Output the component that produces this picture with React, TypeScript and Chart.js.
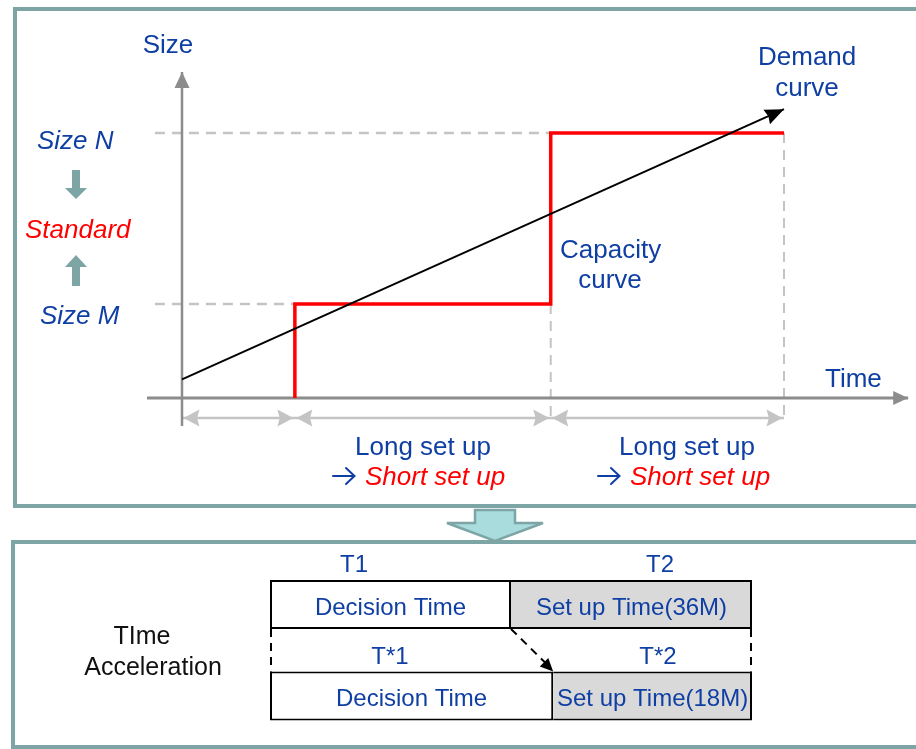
import React, { useEffect, useRef } from "react";
import { Chart, registerables } from "chart.js";

Chart.register(...registerables);

// ---------------- data: upper diagram (sketch units: time / size) ----------------
const timeMarks = [0, 3.0, 9.8, 16]; // origin, first capacity add, second capacity add, horizon
const capacityTimes = [3.0, 3.0, 9.8, 9.8, 16];
const capacitySizes = [0, 3.55, 3.55, 10, 10];
const demandTimes = [0, 16];
const demandSizes = [0.7, 10.9];
const sizeLevelLabels = ["Size M", "Size N"];
const sizeLevels = [3.55, 10];
const sizeLevelReach = [3.0, 9.8]; // time where each dashed guide meets the capacity curve
const timeAxisRange = [-0.93, 19.3];
const sizeAxisRange = [-1.06, 12.3];
const guideStartTime = -0.72;
const spanLevel = -0.75;

// ---------------- data: lower diagram (schedule rows) ----------------
const scheduleRows = ["T", "T*"];
const decisionEnd = [36, 42.3];
const horizonEnd = [72, 72];
const decisionTexts = ["Decision Time", "Decision Time"];
const setupTexts = ["Set up Time(36M)", "Set up Time(18M)"];
const decisionTitles = ["T1", "T*1"];
const setupTitles = ["T2", "T*2"];

const BLUE = "#0f3fa3";
const RED = "#ff0000";
const TEAL = "#7ea5a6";
const GUIDE = "#c4c4c4";
const AXIS = "#8c8c8c";
const FONT = '"Liberation Sans", Arial, sans-serif';

function arrowHead(
  ctx: CanvasRenderingContext2D,
  tx: number,
  ty: number,
  fx: number,
  fy: number,
  len: number,
  half: number,
  color: string,
  notch = 0
) {
  const a = Math.atan2(ty - fy, tx - fx);
  const c = Math.cos(a);
  const s = Math.sin(a);
  const bx = tx - c * len;
  const by = ty - s * len;
  ctx.save();
  ctx.setLineDash([]);
  ctx.fillStyle = color;
  ctx.beginPath();
  ctx.moveTo(tx, ty);
  ctx.lineTo(bx - s * half, by + c * half);
  ctx.lineTo(tx - c * len * (1 - notch), ty - s * len * (1 - notch));
  ctx.lineTo(bx + s * half, by - c * half);
  ctx.closePath();
  ctx.fill();
  ctx.restore();
}

function text(
  ctx: CanvasRenderingContext2D,
  s: string,
  x: number,
  y: number,
  font: string,
  color: string,
  align: CanvasTextAlign = "left"
) {
  ctx.save();
  ctx.font = font;
  ctx.fillStyle = color;
  ctx.textAlign = align;
  ctx.textBaseline = "alphabetic";
  ctx.fillText(s, x, y);
  ctx.restore();
}

const headPlugin = {
  id: "heads",
  afterDatasetsDraw(chart: any) {
    const ctx = chart.ctx as CanvasRenderingContext2D;
    chart.data.datasets.forEach((ds: any, i: number) => {
      const h = ds.head;
      if (!h) return;
      const pts = chart.getDatasetMeta(i).data;
      const n = pts.length;
      const inset = h.inset || 0;
      const put = (p: any, q: any) => {
        const d = Math.hypot(p.x - q.x, p.y - q.y) || 1;
        const tx = p.x - ((p.x - q.x) / d) * inset;
        const ty = p.y - ((p.y - q.y) / d) * inset;
        arrowHead(ctx, tx, ty, q.x, q.y, h.len, h.half, h.color, h.notch || 0);
      };
      if (h.end) put(pts[n - 1], pts[n - 2]);
      if (h.start) put(pts[0], pts[1]);
    });
  },
};

const topLabelPlugin = {
  id: "topLabels",
  afterDraw(chart: any) {
    const ctx = chart.ctx as CanvasRenderingContext2D;
    const f = `26px ${FONT}`;
    const fi = `italic 26px ${FONT}`;
    text(ctx, "Size", 168, 53, f, BLUE, "center");
    text(ctx, sizeLevelLabels[1], 37, 149, fi, BLUE);
    text(ctx, "Standard", 25, 238, fi, RED);
    text(ctx, sizeLevelLabels[0], 40, 324, fi, BLUE);
    text(ctx, "Demand", 758, 65, f, BLUE);
    text(ctx, "curve", 807, 96, f, BLUE, "center");
    text(ctx, "Capacity", 560, 258, f, BLUE);
    text(ctx, "curve", 610, 288, f, BLUE, "center");
    text(ctx, "Time", 825, 387, f, BLUE);
    const longs = [423, 687];
    const arrowsX = [333, 598];
    const shortX = [365, 630];
    for (let k = 0; k < 2; k++) {
      text(ctx, "Long set up", longs[k], 455, f, BLUE, "center");
      // thin "→" symbol
      const ax = arrowsX[k];
      const ay = 476;
      ctx.save();
      ctx.strokeStyle = BLUE;
      ctx.lineWidth = 2;
      ctx.lineCap = "round";
      ctx.beginPath();
      ctx.moveTo(ax, ay);
      ctx.lineTo(ax + 21, ay);
      ctx.moveTo(ax + 13, ay - 8);
      ctx.lineTo(ax + 21.5, ay);
      ctx.lineTo(ax + 13, ay + 8);
      ctx.stroke();
      ctx.restore();
      text(ctx, "Short set up", shortX[k], 485, fi, RED);
    }
    // teal block arrows between size labels
    ctx.save();
    ctx.fillStyle = TEAL;
    const cx = 76;
    ctx.beginPath();
    ctx.moveTo(cx - 4, 170);
    ctx.lineTo(cx + 4, 170);
    ctx.lineTo(cx + 4, 188);
    ctx.lineTo(cx + 11, 188);
    ctx.lineTo(cx, 199);
    ctx.lineTo(cx - 11, 188);
    ctx.lineTo(cx - 4, 188);
    ctx.closePath();
    ctx.fill();
    ctx.beginPath();
    ctx.moveTo(cx, 255);
    ctx.lineTo(cx + 11, 267);
    ctx.lineTo(cx + 4, 267);
    ctx.lineTo(cx + 4, 286);
    ctx.lineTo(cx - 4, 286);
    ctx.lineTo(cx - 4, 267);
    ctx.lineTo(cx - 11, 267);
    ctx.closePath();
    ctx.fill();
    ctx.restore();
  },
};

const bottomPlugin = {
  id: "schedule",
  afterDraw(chart: any) {
    const ctx = chart.ctx as CanvasRenderingContext2D;
    const m0 = chart.getDatasetMeta(0).data;
    const m1 = chart.getDatasetMeta(1).data;
    const xs = chart.scales.x;
    const titleXDec = [354, 390];
    const titleXSet = [660, 658];
    for (let i = 0; i < scheduleRows.length; i++) {
      const d = m0[i];
      const s = m1[i];
      const top = d.y - d.height / 2;
      text(ctx, decisionTitles[i], titleXDec[i], top - 8, `24px ${FONT}`, BLUE, "center");
      text(ctx, setupTitles[i], titleXSet[i], top - 8, `24px ${FONT}`, BLUE, "center");
      text(ctx, decisionTexts[i], (d.x + d.base) / 2, d.y + 10, `24px ${FONT}`, BLUE, "center");
      text(ctx, setupTexts[i], (s.x + s.base) / 2, s.y + 10, `24px ${FONT}`, BLUE, "center");
    }
    const b0 = m0[0].y + m0[0].height / 2;
    const t1 = m0[1].y - m0[1].height / 2;
    ctx.save();
    ctx.strokeStyle = "#000";
    ctx.lineWidth = 2;
    ctx.setLineDash([8, 6]);
    [xs.getPixelForValue(0) + 1, xs.getPixelForValue(horizonEnd[0]) - 1].forEach((x) => {
      ctx.beginPath();
      ctx.moveTo(x, b0);
      ctx.lineTo(x, t1);
      ctx.stroke();
    });
    const ax0 = xs.getPixelForValue(decisionEnd[0]);
    const ax1 = xs.getPixelForValue(decisionEnd[1]);
    ctx.beginPath();
    ctx.moveTo(ax0, b0);
    ctx.lineTo(ax1 - 4, t1 - 5);
    ctx.stroke();
    ctx.restore();
    arrowHead(ctx, ax1, t1, ax0, b0, 13, 6, "#000");
    text(ctx, "TIme", 142, 644 - 542, `25px ${FONT}`, "#111", "center");
    text(ctx, "Acceleration", 153, 675 - 542, `25px ${FONT}`, "#111", "center");
  },
};

const pts = (xs: number[], ys: number[]) => xs.map((x, i) => ({ x, y: ys[i] }));

export default function App() {
  const topRef = useRef<HTMLCanvasElement>(null);
  const botRef = useRef<HTMLCanvasElement>(null);

  useEffect(() => {
    const line = (data: any[], color: string, width: number, extra: any = {}) => ({
      data,
      showLine: true,
      borderColor: color,
      backgroundColor: color,
      borderWidth: width,
      pointRadius: 0,
      pointHoverRadius: 0,
      clip: false,
      tension: 0,
      ...extra,
    });
    const spanHead = { start: true, end: true, len: 16, half: 8.5, color: GUIDE, inset: 1.5, notch: 0.15 };
    const spans = timeMarks.slice(0, -1).map((t, i) =>
      line(pts([t, timeMarks[i + 1]], [spanLevel, spanLevel]), GUIDE, 2.5, { head: spanHead })
    );
    const topChart = new Chart(topRef.current!, {
      type: "scatter",
      data: {
        datasets: [
          line(pts(demandTimes, demandSizes), "#000", 2, {
            head: { end: true, len: 19, half: 8, color: "#000", notch: 0.1 },
          }),
          line(pts(capacityTimes, capacitySizes), RED, 3.5, { borderJoinStyle: "miter" }),
          line(pts([0, 0], sizeAxisRange), AXIS, 2.5, {
            head: { end: true, len: 16, half: 7.5, color: AXIS },
          }),
          line(pts(timeAxisRange, [0, 0]), AXIS, 3, {
            head: { end: true, len: 15, half: 7, color: AXIS },
          }),
          ...sizeLevels.map((lv, i) =>
            line(pts([guideStartTime, sizeLevelReach[i]], [lv, lv]), GUIDE, 2.5, { borderDash: [10, 7] })
          ),
          line(pts([timeMarks[2], timeMarks[2]], [capacitySizes[2], spanLevel + 0.03]), GUIDE, 2, {
            borderDash: [10, 7],
          }),
          line(pts([timeMarks[3], timeMarks[3]], [capacitySizes[4], spanLevel + 0.03]), GUIDE, 2, {
            borderDash: [10, 7],
          }),
          ...spans,
        ] as any,
      },
      options: {
        animation: false,
        responsive: false,
        maintainAspectRatio: false,
        events: [],
        layout: { padding: { left: 182, right: 132, top: 133, bottom: 112 } },
        scales: {
          x: { type: "linear", min: 0, max: 16, display: false },
          y: { type: "linear", min: 0, max: 10, display: false },
        },
        plugins: { legend: { display: false }, tooltip: { enabled: false } },
      } as any,
      plugins: [headPlugin, topLabelPlugin],
    });

    const botChart = new Chart(botRef.current!, {
      type: "bar",
      data: {
        labels: scheduleRows,
        datasets: [
          {
            label: "Decision Time",
            data: scheduleRows.map((_, i) => [0, decisionEnd[i]]),
            backgroundColor: "#ffffff",
            borderColor: "#000000",
            borderWidth: 2,
            borderSkipped: false,
            grouped: false,
            barPercentage: 0.535,
            categoryPercentage: 1,
          },
          {
            label: "Set up Time",
            data: scheduleRows.map((_, i) => [decisionEnd[i], horizonEnd[i]]),
            backgroundColor: "#d9d9d9",
            borderColor: "#000000",
            borderWidth: { top: 2, right: 2, bottom: 2, left: 0 },
            borderSkipped: false,
            grouped: false,
            barPercentage: 0.535,
            categoryPercentage: 1,
          },
        ] as any,
      },
      options: {
        indexAxis: "y",
        animation: false,
        responsive: false,
        maintainAspectRatio: false,
        events: [],
        layout: { padding: { left: 270, right: 164, top: 16.75, bottom: 7.25 } },
        scales: {
          x: { type: "linear", min: 0, max: 72, display: false },
          y: { display: false },
        },
        plugins: { legend: { display: false }, tooltip: { enabled: false } },
      } as any,
      plugins: [bottomPlugin],
    });

    return () => {
      topChart.destroy();
      botChart.destroy();
    };
  }, []);

  return (
    <div
      style={{
        position: "absolute",
        left: 0,
        top: 0,
        width: 916,
        height: 749,
        overflow: "hidden",
        background: "#ffffff",
      }}
    >
      <div
        style={{
          position: "absolute",
          left: 13,
          top: 6.5,
          width: 960,
          height: 501.5,
          boxSizing: "border-box",
          border: `4px solid ${TEAL}`,
        }}
      />
      <div
        style={{
          position: "absolute",
          left: 11,
          top: 540,
          width: 960,
          height: 209,
          boxSizing: "border-box",
          border: `4px solid ${TEAL}`,
        }}
      />
      <canvas
        ref={topRef}
        width={916}
        height={510}
        style={{ position: "absolute", left: 0, top: 0, width: 916, height: 510 }}
      />
      <canvas
        ref={botRef}
        width={916}
        height={207}
        style={{ position: "absolute", left: 0, top: 542, width: 916, height: 207 }}
      />
      <svg
        width={110}
        height={40}
        style={{ position: "absolute", left: 440, top: 505 }}
      >
        <polygon
          points="35,5 75,5 75,18 103,18 55,36 7,18 35,18"
          fill="#a9dcdd"
          stroke={TEAL}
          strokeWidth={2.5}
        />
      </svg>
    </div>
  );
}
